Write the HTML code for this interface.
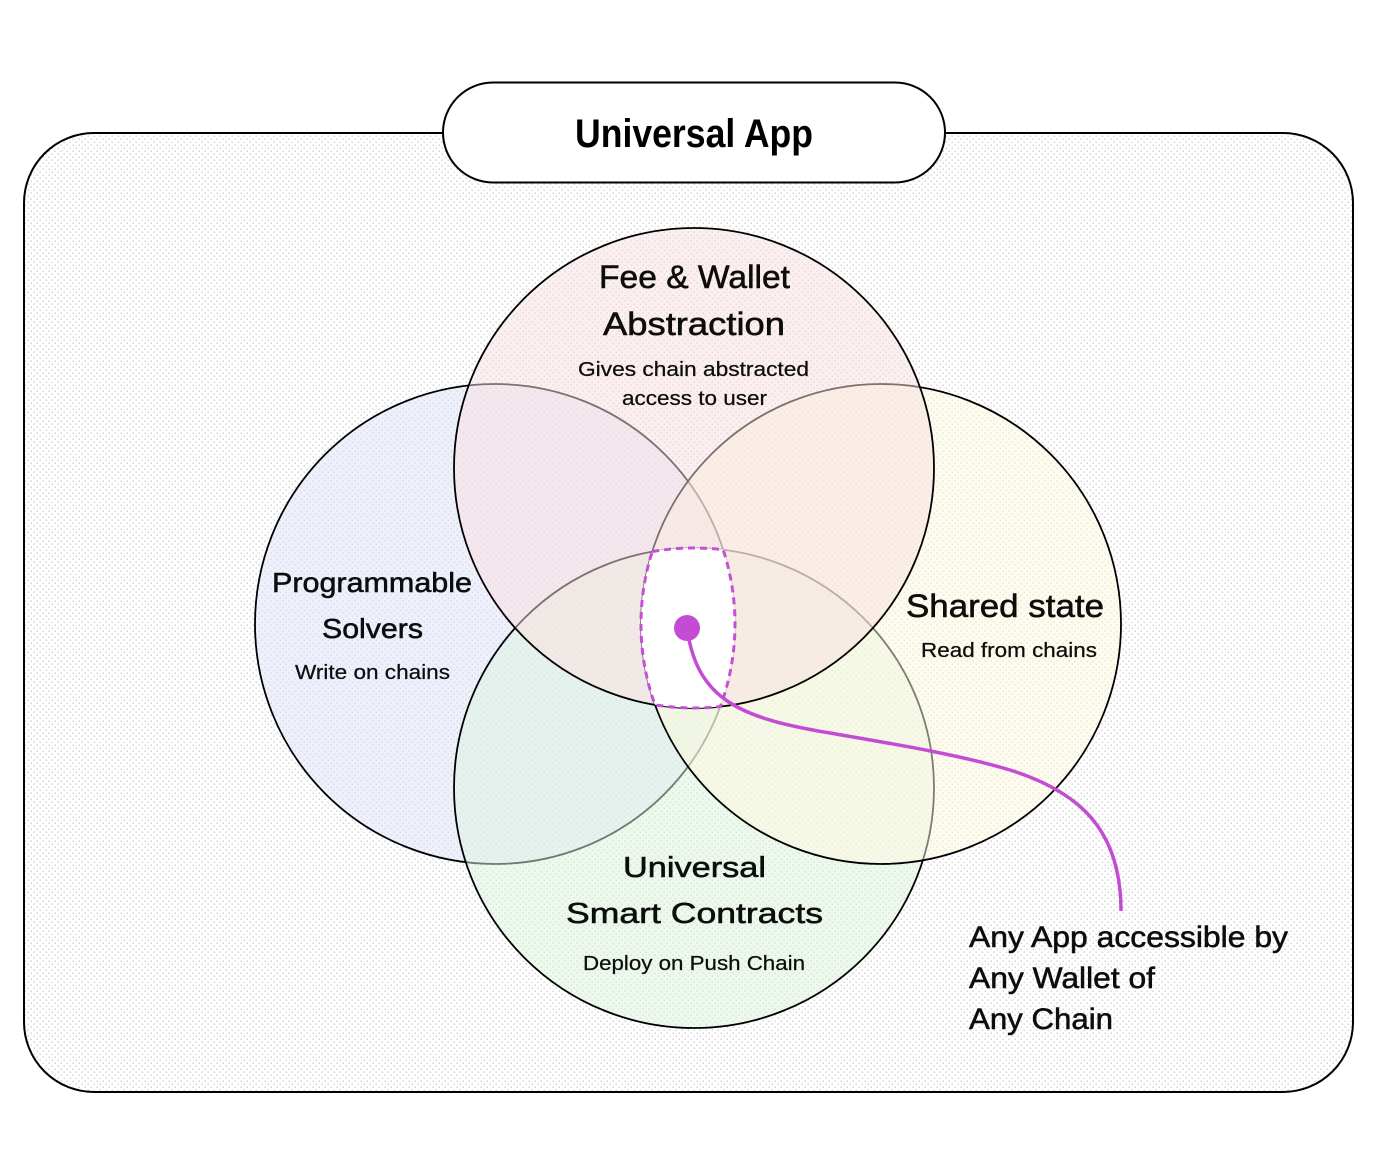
<!DOCTYPE html>
<html>
<head>
<meta charset="utf-8">
<style>
  html, body { margin: 0; padding: 0; background: #ffffff; }
  svg { display: block; }
  .h { font-family: "Liberation Sans", "DejaVu Sans", sans-serif; fill: #0d0d0d; stroke: #0d0d0d; stroke-width: 0.55; }
  .s { font-family: "Liberation Sans", "DejaVu Sans", sans-serif; fill: #0d0d0d; stroke: #0d0d0d; stroke-width: 0.25; }
  .b { font-family: "Liberation Sans", "DejaVu Sans", sans-serif; font-weight: bold; fill: #000; }
</style>
</head>
<body>
<svg width="1394" height="1156" viewBox="0 0 1394 1156" xmlns="http://www.w3.org/2000/svg">
  <defs>
    <pattern id="dots" x="0" y="0" width="6" height="6" patternUnits="userSpaceOnUse">
      <rect x="0.5" y="0.5" width="1.4" height="1.4" fill="#cfcfcf"/>
      <rect x="3.5" y="3.5" width="1.4" height="1.4" fill="#cfcfcf"/>
    </pattern>
  </defs>

  <rect x="0" y="0" width="1394" height="1156" fill="#ffffff"/>

  <!-- Outer container -->
  <rect x="24" y="133" width="1329" height="959" rx="70" ry="70" fill="#ffffff"/>
  <rect x="24" y="133" width="1329" height="959" rx="70" ry="70" fill="url(#dots)" stroke="#000" stroke-width="2"/>

  <!-- Title pill -->
  <rect x="443" y="82.5" width="502" height="100" rx="50" ry="50" fill="#ffffff" stroke="#000" stroke-width="2"/>
  <text class="b" x="575" y="147" font-size="40" textLength="238" lengthAdjust="spacingAndGlyphs">Universal App</text>

  <!-- Circles: order left, bottom, right, top -->
  <circle cx="495" cy="624" r="240" fill="rgba(221,225,249,0.5)" stroke="#000" stroke-width="1.8"/>
  <circle cx="694" cy="788" r="240" fill="rgba(221,243,221,0.5)" stroke="#000" stroke-width="1.8"/>
  <circle cx="881" cy="624" r="240" fill="rgba(251,249,221,0.5)" stroke="#000" stroke-width="1.8"/>
  <circle cx="694" cy="468" r="240" fill="rgba(249,223,223,0.5)" stroke="#000" stroke-width="1.8"/>

  <!-- Central intersection -->
  <path d="M 652.2 551.6 A 240 240 0 0 1 723.2 549.8 A 240 240 0 0 1 720.4 706.5 A 240 240 0 0 1 654.9 704.8 A 240 240 0 0 1 652.2 551.6 Z"
        fill="#ffffff" stroke="#c64fd8" stroke-width="3" stroke-dasharray="7 5" stroke-linejoin="round"/>

  <!-- Connector -->
  <path d="M 687 628 C 697 700 740 718 830 733 C 900 745 960 755 1010 770 C 1080 792 1121 830 1121 911"
        fill="none" stroke="#c44cd5" stroke-width="3.5" stroke-linecap="butt"/>
  <circle cx="687" cy="628" r="13" fill="#c44cd5"/>

  <!-- Top circle labels -->
  <text class="h" x="599" y="288" font-size="32" textLength="191" lengthAdjust="spacingAndGlyphs">Fee &amp; Wallet</text>
  <text class="h" x="603" y="335" font-size="32" textLength="182" lengthAdjust="spacingAndGlyphs">Abstraction</text>
  <text class="s" x="578" y="376" font-size="20.5" textLength="231" lengthAdjust="spacingAndGlyphs">Gives chain abstracted</text>
  <text class="s" x="622" y="405" font-size="20.5" textLength="145" lengthAdjust="spacingAndGlyphs">access to user</text>

  <!-- Left circle labels -->
  <text class="h" x="272" y="592" font-size="28" textLength="200" lengthAdjust="spacingAndGlyphs">Programmable</text>
  <text class="h" x="322" y="638" font-size="28" textLength="101" lengthAdjust="spacingAndGlyphs">Solvers</text>
  <text class="s" x="295" y="679" font-size="20.5" textLength="155" lengthAdjust="spacingAndGlyphs">Write on chains</text>

  <!-- Right circle labels -->
  <text class="h" x="906" y="617" font-size="32" textLength="198" lengthAdjust="spacingAndGlyphs">Shared state</text>
  <text class="s" x="921" y="657" font-size="20.5" textLength="176" lengthAdjust="spacingAndGlyphs">Read from chains</text>

  <!-- Bottom circle labels -->
  <text class="h" x="623" y="877" font-size="29" textLength="143" lengthAdjust="spacingAndGlyphs">Universal</text>
  <text class="h" x="566" y="923" font-size="29" textLength="257" lengthAdjust="spacingAndGlyphs">Smart Contracts</text>
  <text class="s" x="583" y="970" font-size="20.5" textLength="222" lengthAdjust="spacingAndGlyphs">Deploy on Push Chain</text>

  <!-- Callout text -->
  <text class="h" x="969" y="947" font-size="29.5" textLength="319" lengthAdjust="spacingAndGlyphs">Any App accessible by</text>
  <text class="h" x="969" y="988" font-size="29.5" textLength="186" lengthAdjust="spacingAndGlyphs">Any Wallet of</text>
  <text class="h" x="969" y="1029" font-size="29.5" textLength="144" lengthAdjust="spacingAndGlyphs">Any Chain</text>
</svg>
</body>
</html>
